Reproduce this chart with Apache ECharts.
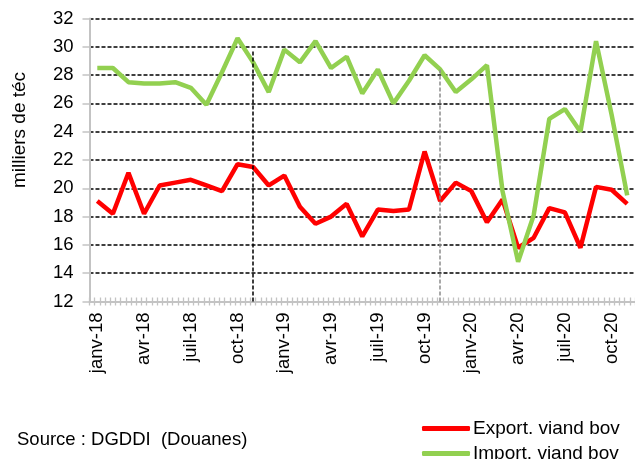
<!DOCTYPE html>
<html>
<head>
<meta charset="utf-8">
<script src="https://cdn.jsdelivr.net/npm/echarts@6/dist/echarts.min.js"></script>
<style>
  html, body { margin: 0; padding: 0; background: #fff; }
  #chart { width: 635px; height: 459px; }
</style>
</head>
<body>
<div id="chart"></div>
<script>
const monthNames = ['janv', 'févr', 'mars', 'avr', 'mai', 'juin', 'juil', 'août', 'sept', 'oct', 'nov', 'déc'];
const years = ['18', '19', '20'];
const months = [];
years.forEach((y) => monthNames.forEach((m) => months.push(m + '-' + y)));
months.length = 35; // janv-18 .. nov-20

const exportVals = [19.1, 18.2, 21.1, 18.2, 20.2, 20.4, 20.6, 20.2, 19.8, 21.7, 21.5, 20.2,
  20.9, 18.7, 17.5, 18.0, 18.9, 16.6, 18.5, 18.4, 18.5, 22.6, 19.1, 20.4,
  19.8, 17.6, 19.2, 15.8, 16.5, 18.6, 18.3, 15.8, 20.1, 19.9, 18.9];
const importVals = [28.5, 28.5, 27.5, 27.4, 27.4, 27.5, 27.1, 25.9, 28.2, 30.6, 28.9, 26.8,
  29.8, 28.9, 30.4, 28.5, 29.3, 26.7, 28.4, 26.0, 27.6, 29.4, 28.4, 26.8,
  27.7, 28.7, 19.8, 14.8, 18.1, 24.9, 25.6, 24.0, 30.4, 25.2, 19.5];

// vertical reference lines: [month, top value, colour]
const markers = [['nov-18', 29.7, '#000'], ['nov-19', 28.4, '#8c8c8c']];

const yMin = 12, yMax = 32, yStep = 2;
const font = "'Liberation Sans', Arial, sans-serif";
const grey = '#c3c3c3';

const chart = echarts.init(document.getElementById('chart'));

const tickAxis = (inside) => ({
  type: 'value', gridIndex: 0, position: 'bottom', min: 0, max: months.length, interval: 1,
  axisLine: { show: false }, axisLabel: { show: false }, splitLine: { show: false },
  axisTick: { show: true, inside: inside, length: 4, lineStyle: { color: grey, width: 1.3 } },
  minorTick: { show: true, splitNumber: 3, length: 4, lineStyle: { color: grey, width: 1.3 } }
});

chart.setOption({
  animation: false,
  textStyle: { fontFamily: font },
  grid: { left: 89.5, top: 18.5, width: 555, height: 283 },
  xAxis: [{
    type: 'category', data: months, boundaryGap: true,
    axisLine: { lineStyle: { color: grey, width: 2 } },
    axisTick: { show: false },
    axisLabel: { interval: 2, rotate: 90, margin: 11, color: '#000', fontSize: 18.5, fontFamily: font }
  }, tickAxis(true), tickAxis(false)],
  yAxis: {
    type: 'value', min: yMin, max: yMax, interval: yStep,
    axisLine: { show: true, lineStyle: { color: grey, width: 2 } },
    axisTick: { show: true, length: 7, lineStyle: { color: grey, width: 1.5 } },
    axisLabel: { color: '#000', fontSize: 18.5, margin: 16, fontFamily: font },
    splitLine: { show: true, showMinLine: false, lineStyle: { color: '#000', type: [4, 2], width: 1.5 } }
  },
  legend: {
    orient: 'vertical', left: 422, top: 419, height: 60, padding: 0,
    itemWidth: 48, itemHeight: 5, itemGap: 6,
    icon: 'roundRect',
    textStyle: { color: '#000', fontSize: 19, lineHeight: 18, fontFamily: font, padding: [0, 0, 0, -2] },
    data: ['Export. viand bov', 'Import. viand bov']
  },
  graphic: [
    { type: 'text', left: 17, top: 430, style: { text: 'Source : DGDDI  (Douanes)', fontSize: 18.5, fontFamily: font, fill: '#000' } },
    { type: 'text', x: 20, y: 130, rotation: Math.PI / 2,
      style: { text: 'milliers de téc', fontSize: 19, fontFamily: font, fill: '#000', align: 'center', verticalAlign: 'middle' } }
  ],
  series: [{
    name: 'Export. viand bov', type: 'line', data: exportVals, showSymbol: false, symbol: 'none',
    color: '#ff0000', lineStyle: { width: 4.5, color: '#ff0000' },
    markLine: {
      silent: true, symbol: 'none', label: { show: false },
      data: markers.map((m) => [
        { coord: [m[0], yMin], lineStyle: { color: m[2], type: [4, 2], width: 1.5 } },
        { coord: [m[0], m[1]] }
      ])
    }
  }, {
    name: 'Import. viand bov', type: 'line', data: importVals, showSymbol: false, symbol: 'none',
    color: '#92d050', lineStyle: { width: 4.5, color: '#92d050' }
  }]
});
</script>
</body>
</html>
